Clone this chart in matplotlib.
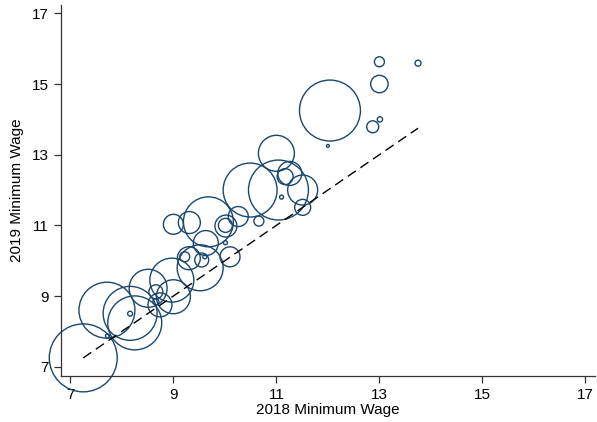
import numpy as np
import matplotlib
matplotlib.use("Agg")
import matplotlib.pyplot as plt

plt.rcParams['font.family'] = ['Liberation Sans', 'DejaVu Sans']

# minimum wage by state, 2018 vs 2019, bubble weight ~ employment
wage_2018 = [7.25, 7.72, 7.71, 8.16, 8.16, 8.25, 8.51, 8.97, 9.00, 8.66,
             8.66, 8.74, 9.52, 9.22, 9.30, 9.55, 9.61, 10.10, 9.63, 10.01,
             9.68, 9.00, 9.31, 10.02, 10.01, 10.26, 10.66, 10.49, 11.04, 11.00,
             11.26, 11.17, 11.51, 11.51, 11.10, 12.04, 12.00, 12.87, 13.01, 13.00,
             13.00, 13.75]
wage_2019 = [7.25, 7.87, 8.60, 8.51, 8.50, 8.24, 9.22, 9.45, 8.98, 9.12,
             8.84, 8.75, 9.80, 10.11, 10.07, 10.02, 10.11, 10.11, 10.50, 10.51,
             11.10, 11.03, 11.08, 10.98, 11.00, 11.25, 11.12, 12.00, 12.00, 13.04,
             12.47, 12.38, 12.00, 11.51, 11.80, 14.25, 13.25, 13.79, 14.00, 15.00,
             15.63, 15.59]
weight = [1156, 4, 784, 729, 6, 729, 361, 484, 289, 49,
          9, 144, 529, 25, 132, 49, 4, 100, 156, 4,
          625, 100, 121, 121, 49, 100, 25, 729, 900, 324,
          144, 64, 225, 64, 4, 930, 2, 36, 7, 76,
          25, 9]

ticks = [7, 9, 11, 13, 15, 17]

fig = plt.figure(figsize=(5.97, 4.22), dpi=100)
ax = fig.add_axes([0.102, 0.109, 0.895, 0.879])

ax.scatter(wage_2018, wage_2019, s=np.array(weight) * 2.07, facecolors='none',
           edgecolors='#1a476f', linewidths=1.0, zorder=2, clip_on=False)

lo, hi = min(wage_2018), max(wage_2018)
ax.plot([lo, hi], [lo, hi], color='black', linestyle=(0, (7, 4)), linewidth=1.0, zorder=3)

ax.set_xlim(6.816, 17.19)
ax.set_ylim(6.737, 17.235)
ax.set_xticks(ticks)
ax.set_yticks(ticks)
ax.tick_params(labelsize=11, length=5, width=0.9, direction='out', colors='#333333', labelcolor='black')

ax.spines['top'].set_visible(False)
ax.spines['right'].set_visible(False)
for sp in ['left', 'bottom']:
    ax.spines[sp].set_color('#333333')
    ax.spines[sp].set_linewidth(0.9)

ax.set_xlabel('2018 Minimum Wage', fontsize=11, labelpad=1)
ax.set_ylabel('2019 Minimum Wage', fontsize=11, labelpad=6)

fig.savefig('out.png', dpi=100)
